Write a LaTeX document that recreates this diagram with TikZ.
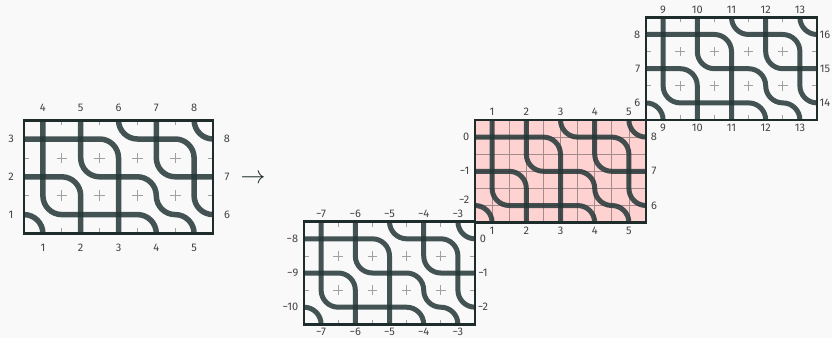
\documentclass[tikz,border=0pt]{standalone}
\usepackage{fontspec}
\setmainfont{Fira Sans}
\definecolor{bg}{RGB}{249,249,250}
\definecolor{ink}{RGB}{36,54,54}
\definecolor{framec}{RGB}{30,44,44}
\definecolor{lblc}{RGB}{66,66,66}
\definecolor{pinkfill}{RGB}{255,210,210}
\definecolor{gridc}{RGB}{160,160,160}
\definecolor{pgridc}{RGB}{165,140,140}
\tikzset{
  thk/.style={draw=ink, draw opacity=0.85, line width=#1, line cap=butt},
  boxframe/.style={draw=framec, line width=#1},
  biggrid/.style={draw=gridc, line width=0.8pt, dash pattern=on 10.6pt off 27.2pt, dash phase=5.3pt},
  smallgrid/.style={draw=gridc, line width=0.8pt, dash pattern=on 9.6pt off 24.6pt, dash phase=4.8pt},
  pinkgrid/.style={draw=pgridc, line width=0.8pt},
  lbl/.style={text=lblc, inner sep=0pt, font=\fontsize{11}{12}\selectfont},
}
% thick pattern of one tile, in tile units
\newcommand{\tilepattern}[1]{%
  \draw[thk=#1] (1,3.5) -- (1,1.5) arc[start angle=180, end angle=270, radius=0.5] -- (3.5,1) arc[start angle=90, end angle=0, radius=0.5];
  \draw[thk=#1] (0.5,3) -- (2.5,3) arc[start angle=90, end angle=0, radius=0.5] -- (3,0.5);
  \draw[thk=#1] (0.5,2) -- (1.5,2) arc[start angle=90, end angle=0, radius=0.5] -- (2,0.5);
  \draw[thk=#1] (2,3.5) -- (2,2.5) arc[start angle=180, end angle=270, radius=0.5] -- (3.5,2) arc[start angle=90, end angle=0, radius=0.5] arc[start angle=180, end angle=270, radius=0.5] arc[start angle=90, end angle=0, radius=0.5];
  \draw[thk=#1] (3,3.5) arc[start angle=180, end angle=270, radius=0.5] -- (4.5,3) arc[start angle=90, end angle=0, radius=0.5] -- (5,1.5) arc[start angle=180, end angle=270, radius=0.5];
  \draw[thk=#1] (4,3.5) -- (4,2.5) arc[start angle=180, end angle=270, radius=0.5] -- (5.5,2);
  \draw[thk=#1] (5,3.5) arc[start angle=180, end angle=270, radius=0.5];
  \draw[thk=#1] (0.5,1) arc[start angle=90, end angle=0, radius=0.5];
}
\newcommand{\dashgrid}[1]{%
  \foreach \gx in {1.5,2.5,3.5,4.5} \draw[#1] (\gx,0.5) -- (\gx,3.5);
  \foreach \gy in {1.5,2.5} \draw[#1] (0.5,\gy) -- (5.5,\gy);
}
% small tile: #1 name prefix, #2 top, #3 bottom, #4 left (top to bottom), #5 right (top to bottom)
\newcommand{\smalllabels}[5]{%
  \foreach \t [count=\i] in {#2} \node[lbl, yshift=8pt] (#1-t\i) at (\i,3.5) {\t};
  \foreach \t [count=\i] in {#3} \node[lbl, yshift=-7.8pt] (#1-b\i) at (\i,0.5) {\t};
  \foreach \t [count=\i] in {#4} \node[lbl, anchor=east, xshift=-5.5pt] (#1-l\i) at (0.5,4-\i) {\t};
  \foreach \t [count=\i] in {#5} \node[lbl, xshift=8pt] (#1-r\i) at (5.5,4-\i) {\t};
}
\begin{document}
\begin{tikzpicture}[x=1pt, y=1pt]
\fill[bg] (0,0) rectangle (832,338);
\useasboundingbox (0,0) rectangle (832,338);

% ---------- left (big) tile ----------
\begin{scope}[shift={(5.1pt,85.6pt)}, x=37.8pt, y=37.8pt]
  \dashgrid{biggrid}
  \tilepattern{5.5pt}
  \draw[boxframe=2.8pt] (0.5,0.5) rectangle (5.5,3.5);
  \foreach \t [count=\i] in {4,5,6,7,8} \node[lbl, yshift=12pt] (A-t\i) at (\i,3.5) {\t};
  \foreach \t [count=\i] in {1,2,3,4,5} \node[lbl, yshift=-14pt] (A-b\i) at (\i,0.5) {\t};
  \foreach \t [count=\i] in {3,2,1} \node[lbl, xshift=-13pt] (A-l\i) at (0.5,4-\i) {\t};
  \foreach \t [count=\i] in {8,7,6} \node[lbl, xshift=14pt] (A-r\i) at (5.5,4-\i) {\t};
\end{scope}

% arrow
\node[anchor=base, text=framec, inner sep=0pt, font=\fontsize{26}{26}\selectfont] (arrow) at (253,154.2) {$\to$};

% ---------- bottom tile ----------
\begin{scope}[shift={(286.9pt,-3.4pt)}, x=34.2pt, y=34.2pt]
  \dashgrid{smallgrid}
  \tilepattern{5pt}
  \draw[boxframe=2.5pt] (0.5,0.5) rectangle (5.5,3.5);
  \smalllabels{C}{−7,−6,−5,−4,−3}{−7,−6,−5,−4,−3}{−8,−9,−10}{0,−1,−2}
\end{scope}

% ---------- top-right tile ----------
\begin{scope}[shift={(628.9pt,200.9pt)}, x=34.2pt, y=34.2pt]
  \dashgrid{smallgrid}
  \tilepattern{5pt}
  \draw[boxframe=2.5pt] (0.5,0.5) rectangle (5.5,3.5);
  \smalllabels{D}{9,10,11,12,13}{9,10,11,12,13}{8,7,6}{16,15,14}
\end{scope}

% ---------- pink tile ----------
\begin{scope}[shift={(457.9pt,98.3pt)}, x=34.2pt, y=34.2pt]
  \fill[pinkfill] (0.5,0.5) rectangle (5.5,3.5);
  \foreach \gx in {1,1.5,...,5} \draw[pinkgrid] (\gx,0.5) -- (\gx,3.5);
  \foreach \gy in {1,1.5,...,3} \draw[pinkgrid] (0.5,\gy) -- (5.5,\gy);
  \tilepattern{5pt}
  \draw[boxframe=2.5pt] (0.5,0.5) rectangle (5.5,3.5);
  \foreach \t [count=\i] in {1,2,3,4,5} \node[lbl, yshift=8pt] (B-t\i) at (\i,3.5) {\t};
  \foreach \t [count=\i] in {1,2,3,4,5} \node[lbl, yshift=-7.8pt] (B-b\i) at (\i,0.5) {\t};
  \node[lbl, anchor=east, xshift=-5.5pt] (B-l1) at (0.5,3) {0};
  \node[lbl, anchor=east, xshift=-5.5pt] (B-l2) at (0.5,2) {−1};
  \node[lbl, anchor=east, xshift=-5.5pt, yshift=6pt] (B-l3) at (0.5,1) {−2};
  \foreach \t [count=\i] in {8,7,6} \node[lbl, xshift=8pt] (B-r\i) at (5.5,4-\i) {\t};
\end{scope}
\end{tikzpicture}
\end{document}
